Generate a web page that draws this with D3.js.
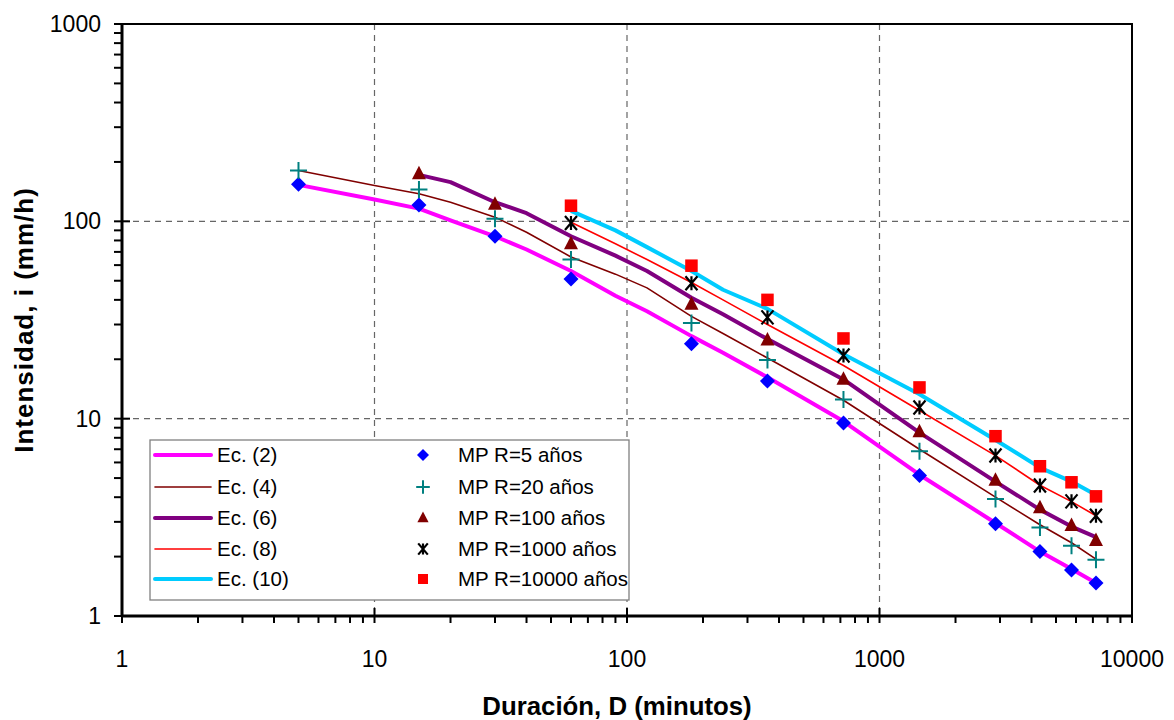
<!DOCTYPE html>
<html>
<head>
<meta charset="utf-8">
<script src="https://cdn.jsdelivr.net/npm/d3@7"></script>
<style>
  body { margin: 0; background: #fff; }
  text { font-family: "Liberation Sans", Arial, sans-serif; fill: #000; }
</style>
</head>
<body>
<svg id="chart" width="1174" height="720"></svg>
<script>
// durations (minutes) where the equation curves are drawn
var durLines = [5, 10, 15, 20, 30, 40, 60, 90, 120, 180, 240, 360, 720, 1440, 2880, 4320, 5760, 7200];
var ec2  = [153, 129, 116, 101, 84, 72, 56, 42, 35, 26.2, 21.6, 16.2, 9.7, 5.2, 2.96, 2.12, 1.73, 1.47];
var ec4  = [181, 152, 138, 125, 105, 88, 66, 54, 46, 33, 27, 20.3, 12.4, 7.0, 4.0, 2.9, 2.35, 1.94];
var ec6  = [null, null, 172, 158, 125, 110, 84, 67, 56, 41, 33.8, 25.3, 15.8, 8.5, 4.8, 3.46, 2.84, 2.51];
var ec8  = [null, null, null, null, null, null, 99, 77, 64, 49, 40, 30, 18.6, 11, 6.5, 4.6, 3.8, 3.22];
var ec10 = [null, null, null, null, null, null, 113, 90, 74, 56, 45, 36, 21.2, 13.3, 7.8, 5.65, 4.8, 4.1];

// durations of the MP points
var durPts = [5, 15, 30, 60, 180, 360, 720, 1440, 2880, 4320, 5760, 7200];
var r5     = [154, 121, 84, 51, 24, 15.5, 9.5, 5.15, 2.93, 2.12, 1.71, 1.47];
var r20    = [181, 145, 103, 64, 30.5, 19.8, 12.5, 6.84, 3.92, 2.81, 2.27, 1.93];
var r100   = [null, 174, 122, 77, 38, 25, 15.8, 8.58, 4.87, 3.53, 2.87, 2.41];
var r1000  = [null, null, null, 98, 48.6, 32.6, 20.9, 11.4, 6.5, 4.58, 3.81, 3.22];
var r10000 = [null, null, null, 120, 59.6, 40, 25.5, 14.4, 8.15, 5.74, 4.76, 4.04];

var xTickLabels = [1, 10, 100, 1000, 10000];
var yTickLabels = [1, 10, 100, 1000];

var lineSeries = [
    {name: "Ec. (2)",  values: ec2,  color: "#ff00ff", width: 4},
    {name: "Ec. (4)",  values: ec4,  color: "#800000", width: 1.6},
    {name: "Ec. (6)",  values: ec6,  color: "#800080", width: 4},
    {name: "Ec. (8)",  values: ec8,  color: "#ff0000", width: 1.6},
    {name: "Ec. (10)", values: ec10, color: "#00ccff", width: 4}
];
var pointSeries = [
    {name: "MP R=5 años",     values: r5,     color: "#0000ff", shape: "diamond"},
    {name: "MP R=20 años",    values: r20,    color: "#008080", shape: "cross"},
    {name: "MP R=100 años",   values: r100,   color: "#800000", shape: "triangle"},
    {name: "MP R=1000 años",  values: r1000,  color: "#000000", shape: "asterisk"},
    {name: "MP R=10000 años", values: r10000, color: "#ff0000", shape: "square"}
];

var svg = d3.select("#chart");
var pLeft = 122, pRight = 1132, pTop = 24, pBottom = 616;

var x = d3.scaleLog().domain([1, 10000]).range([pLeft, pRight]);
var y = d3.scaleLog().domain([1, 1000]).range([pBottom, pTop]);

// grid
svg.append("g").selectAll("line")
    .data(xTickLabels.slice(1, -1))
    .enter().append("line")
    .attr("x1", d => x(d)).attr("x2", d => x(d))
    .attr("y1", pTop).attr("y2", pBottom)
    .attr("stroke", "#666").attr("stroke-width", 1.2).attr("stroke-dasharray", "6,5");
svg.append("g").selectAll("line")
    .data(yTickLabels.slice(1, -1))
    .enter().append("line")
    .attr("y1", d => y(d)).attr("y2", d => y(d))
    .attr("x1", pLeft).attr("x2", pRight)
    .attr("stroke", "#666").attr("stroke-width", 1.2).attr("stroke-dasharray", "6,5");

// frame
svg.append("rect")
    .attr("x", pLeft).attr("y", pTop)
    .attr("width", pRight - pLeft).attr("height", pBottom - pTop)
    .attr("fill", "none").attr("stroke", "#000").attr("stroke-width", 2);
svg.append("line").attr("x1", pLeft).attr("x2", pLeft).attr("y1", pTop).attr("y2", pBottom)
    .attr("stroke", "#000").attr("stroke-width", 3);
svg.append("line").attr("x1", pLeft - 1).attr("x2", pRight).attr("y1", pBottom).attr("y2", pBottom)
    .attr("stroke", "#000").attr("stroke-width", 3);

// ticks
var isMajor = d => Math.abs(Math.log10(d) - Math.round(Math.log10(d))) < 1e-9;
var xt = x.ticks();
svg.append("g").selectAll("line")
    .data(xt)
    .enter().append("line")
    .attr("x1", d => x(d)).attr("x2", d => x(d))
    .attr("y1", d => isMajor(d) ? pBottom - 8 : pBottom)
    .attr("y2", pBottom + 7)
    .attr("stroke", "#000").attr("stroke-width", 2);
var yt = y.ticks();
svg.append("g").selectAll("line")
    .data(yt)
    .enter().append("line")
    .attr("y1", d => y(d)).attr("y2", d => y(d))
    .attr("x1", pLeft - 8)
    .attr("x2", d => isMajor(d) ? pLeft + 8 : pLeft)
    .attr("stroke", "#000").attr("stroke-width", 2);

// tick labels
svg.append("g").selectAll("text")
    .data(xTickLabels)
    .enter().append("text")
    .attr("x", d => x(d)).attr("y", 667)
    .attr("text-anchor", "middle")
    .style("font-size", "23px")
    .text(d => d);
svg.append("g").selectAll("text")
    .data(yTickLabels)
    .enter().append("text")
    .attr("x", 101).attr("y", d => y(d) + 8)
    .attr("text-anchor", "end")
    .style("font-size", "23px")
    .text(d => d);

// axis titles
svg.append("text")
    .attr("x", 617).attr("y", 715)
    .attr("text-anchor", "middle")
    .style("font-size", "25.8px").style("font-weight", "bold")
    .text("Duración, D (minutos)");
svg.append("text")
    .attr("transform", "translate(33,320) rotate(-90)")
    .attr("text-anchor", "middle")
    .style("font-size", "26px").style("font-weight", "bold")
    .style("letter-spacing", "1px")
    .text("Intensidad, i (mm/h)");

// equation lines
var line = d3.line()
    .defined(d => d.v != null)
    .x(d => x(d.d))
    .y(d => y(d.v));

lineSeries.forEach(function(s) {
    var pts = durLines.map((d, i) => ({d: d, v: s.values[i]}));
    svg.append("path")
        .datum(pts)
        .attr("d", line)
        .attr("fill", "none")
        .attr("stroke", s.color)
        .attr("stroke-width", s.width)
        .attr("stroke-linejoin", "round");
});

// markers
function drawMarker(g, shape, color, k) {
    if (shape == "diamond") {
        var r = 7.5 * k;
        g.append("path").attr("d", "M0," + (-r) + "L" + r + ",0L0," + r + "L" + (-r) + ",0Z").attr("fill", color);
    } else if (shape == "square") {
        var s = 12.5 * k;
        g.append("rect").attr("x", -s / 2).attr("y", -s / 2).attr("width", s).attr("height", s).attr("fill", color);
    } else if (shape == "triangle") {
        var w = 7 * k, h = 13.5 * k;
        g.append("path").attr("d", "M0," + (-h * 0.6) + "L" + w + "," + (h * 0.4) + "L" + (-w) + "," + (h * 0.4) + "Z").attr("fill", color);
    } else if (shape == "cross") {
        var c = 8.5 * k;
        g.append("path").attr("d", "M" + (-c) + ",0H" + c + "M0," + (-c) + "V" + c)
            .attr("stroke", color).attr("stroke-width", 2).attr("fill", "none");
    } else if (shape == "asterisk") {
        var a = 7 * k, b = 6 * k;
        g.append("path").attr("d", "M0," + (-a) + "V" + a + "M" + (-b) + "," + (-a) + "L" + b + "," + a + "M" + b + "," + (-a) + "L" + (-b) + "," + a)
            .attr("stroke", color).attr("stroke-width", 2.2).attr("fill", "none");
    }
}

pointSeries.forEach(function(s) {
    durPts.forEach(function(d, i) {
        if (s.values[i] == null) return;
        var g = svg.append("g").attr("transform", "translate(" + x(d) + "," + y(s.values[i]) + ")");
        drawMarker(g, s.shape, s.color, 1);
    });
});

// legend
var lg = svg.append("g");
lg.append("rect")
    .attr("x", 150).attr("y", 440).attr("width", 479).attr("height", 160)
    .attr("fill", "#fff").attr("stroke", "#808080").attr("stroke-width", 1.3);
var rowY = [455, 487, 518, 549, 579];
lineSeries.forEach(function(s, i) {
    lg.append("line")
        .attr("x1", 155).attr("x2", 211).attr("y1", rowY[i]).attr("y2", rowY[i])
        .attr("stroke", s.color).attr("stroke-width", s.width)
        .attr("stroke-linecap", "round");
    lg.append("text")
        .attr("x", 217).attr("y", rowY[i] + 7)
        .style("font-size", "20.5px")
        .text(s.name);
});
pointSeries.forEach(function(s, i) {
    var g = lg.append("g").attr("transform", "translate(423," + rowY[i] + ")");
    drawMarker(g, s.shape, s.color, 0.8);
    lg.append("text")
        .attr("x", 458).attr("y", rowY[i] + 7)
        .style("font-size", "20.5px")
        .text(s.name);
});
</script>
</body>
</html>
